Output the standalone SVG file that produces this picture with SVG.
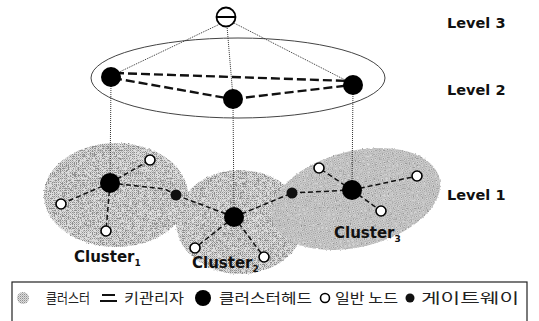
<svg xmlns="http://www.w3.org/2000/svg" width="539" height="321" viewBox="0 0 539 321">
  <defs>
    <!-- halftone fill used for cluster regions -->
    <pattern id="halftone" patternUnits="userSpaceOnUse" width="2" height="2">
      <rect width="2" height="2" fill="#dcdcdc"/>
      <rect width="1" height="1" fill="#8f8f8f"/>
      <rect x="1" y="1" width="1" height="1" fill="#b8b8b8"/>
    </pattern>
    <!-- roughens the outline of the cluster regions -->
    <filter id="grain" x="-5%" y="-5%" width="110%" height="110%">
      <feTurbulence type="fractalNoise" baseFrequency="0.6" numOctaves="1" seed="3" result="n"/>
      <feDisplacementMap in="SourceGraphic" in2="n" scale="3" xChannelSelector="R" yChannelSelector="G"/>
    </filter>
    <style>
      .cluster { fill: url(#halftone); }
      .dot { fill: none; stroke: #333; stroke-width: 1; stroke-dasharray: 1 1; }
      .dash2 { fill: none; stroke: #111; stroke-width: 2.4; stroke-dasharray: 9 4; }
      .dash1 { fill: none; stroke: #111; stroke-width: 1.5; stroke-dasharray: 5 3; }
      .head { fill: #000; }
      .gw { fill: #111; }
      .plain { fill: #fff; stroke: #000; stroke-width: 1.6; }
      .level { font-family: "DejaVu Sans", Verdana, sans-serif; font-weight: bold; font-size: 14.5px; fill: #111; }
      .clabel { font-family: "DejaVu Sans", Verdana, sans-serif; font-weight: bold; font-size: 15px; fill: #111; }
      .sub { font-size: 9px; }
      .legend { font-family: "Noto Sans CJK KR", sans-serif; font-size: 14px; fill: #222; }
    </style>
  </defs>

  <rect width="539" height="321" fill="#fff"/>

  <!-- cluster regions -->
  <g id="cluster-areas" filter="url(#grain)">
    <ellipse class="cluster" cx="116" cy="195" rx="72" ry="52"/>
    <ellipse class="cluster" cx="240" cy="222" rx="64" ry="52"/>
    <ellipse class="cluster" cx="356" cy="199" rx="86" ry="48" transform="rotate(-14 356 199)"/>
  </g>

  <!-- level 2 boundary -->
  <ellipse id="level2-ring" cx="238" cy="78" rx="147" ry="40" fill="none" stroke="#444" stroke-width="1"/>

  <g id="connectors">
    <!-- key manager to level 2 heads -->
    <line class="dot" x1="220" y1="24" x2="113" y2="75"/>
    <line class="dot" x1="227" y1="26" x2="233" y2="97"/>
    <line class="dot" x1="234" y1="23" x2="351" y2="83"/>
    <!-- level 2 heads down to level 1 heads -->
    <line class="dot" x1="111" y1="80" x2="110" y2="183"/>
    <line class="dot" x1="233" y1="102" x2="234" y2="217"/>
    <line class="dot" x1="353" y1="88" x2="352" y2="190"/>
    <!-- level 2 links -->
    <path class="dash2" d="M115 73 L350 81"/>
    <path class="dash2" d="M113 78 L232 99"/>
    <path class="dash2" d="M233 99 L352 85"/>
    <!-- cluster 1 -->
    <line class="dash1" x1="110" y1="183" x2="150" y2="160"/>
    <line class="dash1" x1="110" y1="183" x2="61" y2="204"/>
    <line class="dash1" x1="110" y1="183" x2="106" y2="231"/>
    <path class="dash1" d="M110 183 L165 189 L176 195"/>
    <line class="dash1" x1="176" y1="195" x2="234" y2="217"/>
    <!-- cluster 2 -->
    <line class="dash1" x1="234" y1="217" x2="195" y2="248"/>
    <line class="dash1" x1="234" y1="217" x2="264" y2="257"/>
    <line class="dash1" x1="234" y1="217" x2="292" y2="193"/>
    <!-- cluster 3 -->
    <line class="dash1" x1="292" y1="193" x2="352" y2="190"/>
    <line class="dash1" x1="352" y1="190" x2="319" y2="168"/>
    <line class="dash1" x1="352" y1="190" x2="417" y2="176"/>
    <line class="dash1" x1="352" y1="190" x2="381" y2="211"/>
  </g>

  <!-- level 3: key manager -->
  <g id="key-manager">
    <circle cx="226" cy="17" r="9.5" fill="#fff" stroke="#000" stroke-width="1.8"/>
    <line x1="217" y1="17" x2="235" y2="17" stroke="#000" stroke-width="2"/>
  </g>

  <!-- level 2 heads -->
  <g id="l2-head-1"><circle class="head" cx="111" cy="77" r="10"/></g>
  <g id="l2-head-2"><circle class="head" cx="233" cy="99" r="10"/></g>
  <g id="l2-head-3"><circle class="head" cx="353" cy="85" r="10"/></g>

  <!-- cluster 1 nodes -->
  <g id="c1-head"><circle class="head" cx="110" cy="183" r="10"/></g>
  <g id="c1-n1"><circle class="plain" cx="150" cy="160" r="5"/></g>
  <g id="c1-n2"><circle class="plain" cx="61" cy="204" r="5"/></g>
  <g id="c1-n3"><circle class="plain" cx="106" cy="231" r="5"/></g>
  <g id="gateway-1"><circle class="gw" cx="176" cy="195" r="5.5"/></g>

  <!-- cluster 2 nodes -->
  <g id="c2-head"><circle class="head" cx="234" cy="217" r="10"/></g>
  <g id="c2-n1"><circle class="plain" cx="195" cy="248" r="5"/></g>
  <g id="c2-n2"><circle class="plain" cx="264" cy="257" r="5"/></g>
  <g id="gateway-2"><circle class="gw" cx="292" cy="193" r="5.5"/></g>

  <!-- cluster 3 nodes -->
  <g id="c3-head"><circle class="head" cx="352" cy="190" r="10"/></g>
  <g id="c3-n1"><circle class="plain" cx="319" cy="168" r="5"/></g>
  <g id="c3-n2"><circle class="plain" cx="417" cy="176" r="5"/></g>
  <g id="c3-n3"><circle class="plain" cx="381" cy="211" r="5"/></g>

  <!-- labels -->
  <g id="level-labels">
    <text class="level" x="447" y="28">Level 3</text>
    <text class="level" x="447" y="95">Level 2</text>
    <text class="level" x="447" y="200">Level 1</text>
  </g>
  <g id="cluster-labels">
    <text class="clabel" x="74" y="262">Cluster<tspan class="sub" dy="4">1</tspan></text>
    <text class="clabel" x="192" y="268">Cluster<tspan class="sub" dy="4">2</tspan></text>
    <text class="clabel" x="334" y="238">Cluster<tspan class="sub" dy="4">3</tspan></text>
  </g>

  <!-- legend -->
  <g id="legend">
    <rect x="12" y="282" width="515" height="50" fill="none" stroke="#222" stroke-width="1.2"/>
    <circle cx="23" cy="298" r="6" fill="url(#halftone)"/>
    <text class="legend" x="46" y="303" textLength="44" lengthAdjust="spacingAndGlyphs">클러스터</text>
    <line x1="102" y1="295" x2="115" y2="295" stroke="#111" stroke-width="2"/>
    <line x1="100" y1="301" x2="117" y2="301" stroke="#111" stroke-width="2"/>
    <text class="legend" x="124" y="303" textLength="60" lengthAdjust="spacingAndGlyphs">키관리자</text>
    <circle cx="203" cy="298" r="8" fill="#000"/>
    <text class="legend" x="219" y="303" textLength="93" lengthAdjust="spacingAndGlyphs">클러스터헤드</text>
    <circle cx="325" cy="298" r="4.5" fill="#fff" stroke="#000" stroke-width="1.6"/>
    <text class="legend" x="335" y="303" textLength="63" lengthAdjust="spacingAndGlyphs">일반 노드</text>
    <circle cx="410" cy="298" r="4.5" fill="#111"/>
    <text class="legend" x="421" y="303" textLength="98" lengthAdjust="spacingAndGlyphs">게이트웨이</text>
  </g>
</svg>
